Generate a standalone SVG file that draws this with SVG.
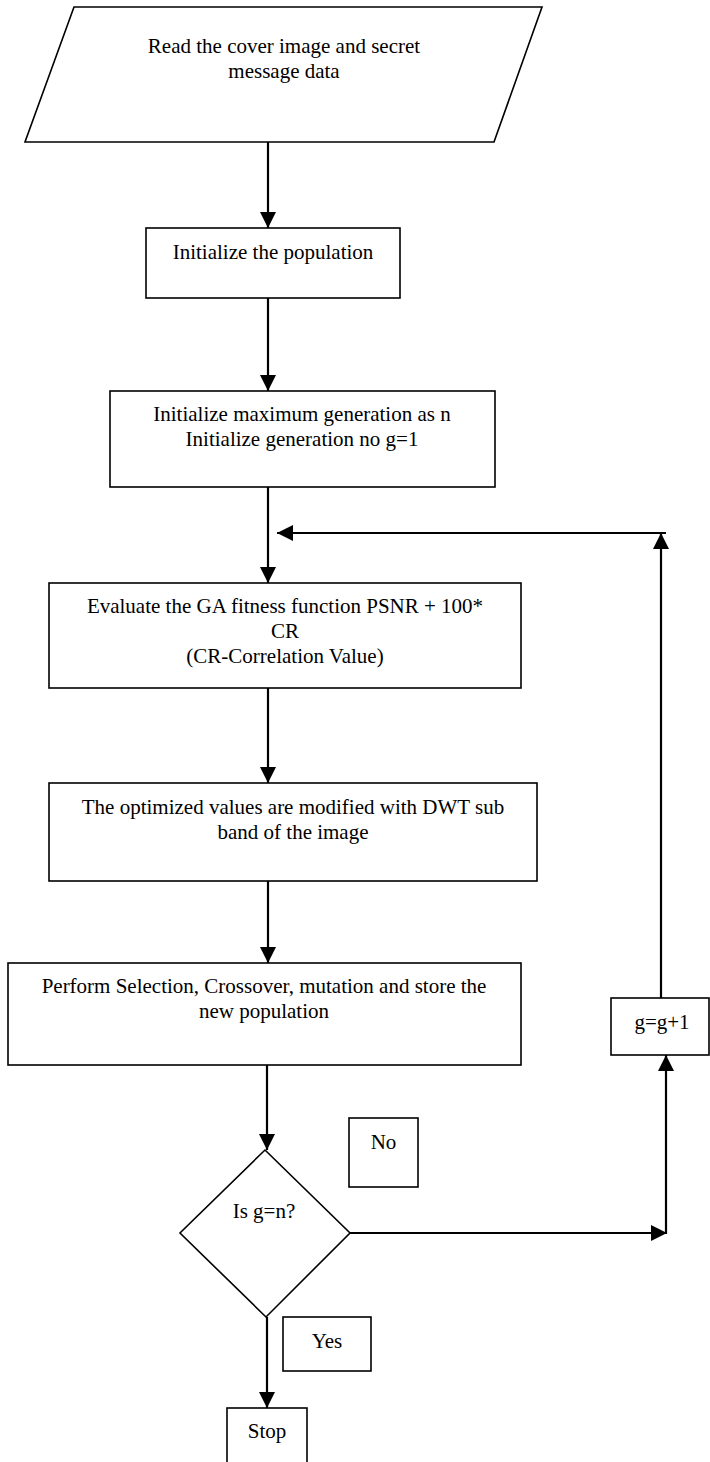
<svg xmlns="http://www.w3.org/2000/svg" width="710" height="1462" viewBox="0 0 710 1462">
<defs>
<style>
.n{fill:#fff;stroke:#000;stroke-width:1.6}
.t{font-family:"Liberation Serif","Times New Roman",serif;font-size:21px;fill:#000;text-anchor:middle}
.c{fill:none;stroke:#000;stroke-width:2.2}
</style>
<marker id="a" viewBox="0 0 16 16" refX="16" refY="8" markerWidth="16" markerHeight="16" markerUnits="userSpaceOnUse" orient="auto">
<path d="M0,0 L16,8 L0,16 Z" fill="#000"/>
</marker>
</defs>
<rect width="710" height="1462" fill="#fff"/>
<g id="connectors">
<line class="c" x1="268" y1="142" x2="268" y2="228" marker-end="url(#a)"/>
<line class="c" x1="268" y1="298" x2="268" y2="391" marker-end="url(#a)"/>
<line class="c" x1="268" y1="487" x2="268" y2="583" marker-end="url(#a)"/>
<line class="c" x1="268" y1="688" x2="268" y2="783" marker-end="url(#a)"/>
<line class="c" x1="268" y1="881" x2="268" y2="963" marker-end="url(#a)"/>
<line class="c" x1="267" y1="1065" x2="267" y2="1150" marker-end="url(#a)"/>
<line class="c" x1="267" y1="1317" x2="267" y2="1408" marker-end="url(#a)"/>
<line class="c" x1="350" y1="1233" x2="667" y2="1233" marker-end="url(#a)"/>
<line class="c" x1="666" y1="1234" x2="666" y2="1055" marker-end="url(#a)"/>
<line class="c" x1="661" y1="998" x2="661" y2="533" marker-end="url(#a)"/>
<line class="c" x1="666" y1="533" x2="277" y2="533" marker-end="url(#a)"/>
</g>
<g id="start">
<polygon class="n" points="74,7 542,7 494,142 25,142"/>
<text class="t" x="284" y="53">Read the cover image and secret</text>
<text class="t" x="284" y="78">message data</text>
</g>
<g id="init-pop">
<rect class="n" x="146" y="228" width="254" height="70"/>
<text class="t" x="273" y="259">Initialize the population</text>
</g>
<g id="init-gen">
<rect class="n" x="110" y="391" width="385" height="96"/>
<text class="t" x="302" y="421">Initialize maximum generation as n</text>
<text class="t" x="302" y="446">Initialize generation no g=1</text>
</g>
<g id="evaluate">
<rect class="n" x="49" y="583" width="472" height="105"/>
<text class="t" x="285" y="613">Evaluate the GA fitness function PSNR + 100*</text>
<text class="t" x="285" y="638">CR</text>
<text class="t" x="285" y="663">(CR-Correlation Value)</text>
</g>
<g id="modify">
<rect class="n" x="49" y="783" width="488" height="98"/>
<text class="t" x="293" y="814">The optimized values are modified with DWT sub</text>
<text class="t" x="293" y="839">band of the image</text>
</g>
<g id="select">
<rect class="n" x="8" y="963" width="513" height="102"/>
<text class="t" x="264" y="993">Perform Selection, Crossover, mutation and store the</text>
<text class="t" x="264" y="1018">new population</text>
</g>
<g id="increment">
<rect class="n" x="611" y="998" width="98" height="57"/>
<text class="t" x="662" y="1029">g=g+1</text>
</g>
<g id="decision">
<polygon class="n" points="265,1150 350,1233 266,1317 180,1233"/>
<text class="t" x="264" y="1218">Is g=n?</text>
</g>
<g id="label-no">
<rect class="n" x="349" y="1118" width="69" height="69"/>
<text class="t" x="383.5" y="1149">No</text>
</g>
<g id="label-yes">
<rect class="n" x="283" y="1317" width="88" height="54"/>
<text class="t" x="327" y="1348">Yes</text>
</g>
<g id="stop">
<rect class="n" x="227" y="1408" width="80" height="70"/>
<text class="t" x="267" y="1438">Stop</text>
</g>
</svg>
